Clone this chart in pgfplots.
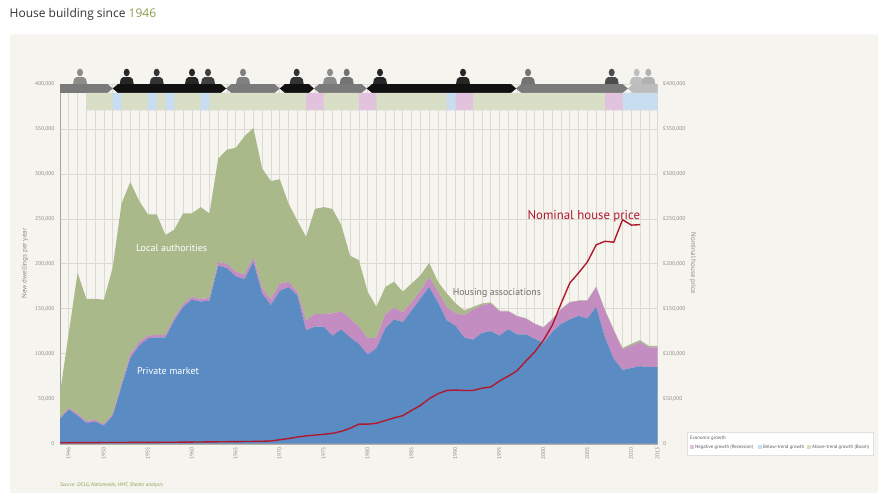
\documentclass[border=0pt]{standalone}
\usepackage{pgfplots}
\usepackage{pgfplotstable}
\pgfplotsset{compat=1.18}
\usepackage{fontspec}
\setmainfont{PT Sans}
\newfontfamily\titlefont{Open Sans}
\definecolor{bg}{HTML}{F6F4EF}
\definecolor{gridc}{HTML}{DEDAD2}
\definecolor{pmblue}{HTML}{5B8BC3}
\definecolor{hapink}{HTML}{C48DC2}
\definecolor{lagreen}{HTML}{AAB98A}
\definecolor{pricered}{HTML}{B0182D}
\definecolor{bandg}{HTML}{D9DFC7}
\definecolor{bandb}{HTML}{C8DDF0}
\definecolor{bandp}{HTML}{E2C3DE}
\definecolor{lab}{HTML}{7A7A7A}
\definecolor{con}{HTML}{111111}
\definecolor{coal}{HTML}{BDBDBD}
\definecolor{olive}{HTML}{8A9F4E}
\definecolor{ticktext}{HTML}{8A8A8A}
\definecolor{axisgray}{HTML}{B5B0A6}
\definecolor{hatext}{HTML}{707070}

% thousands of dwellings: private market, housing associations, local authorities
\pgfplotstableread{
year pm ha la
1946 27.5 1 27.5
1947 38 1.5 83.5
1948 31 2 157
1949 23 2 136
1950 24.5 2 134.5
1951 20 1.5 138.5
1952 31 2 163
1953 64 3 200
1954 95 4 192
1955 109 4 157
1956 117 3 135
1957 118 3 134
1958 118 3 111
1959 137 3 98
1960 152 3 101
1961 160 3 93
1962 158 3 102
1963 159 3 94
1964 198 4 115
1965 195 5 127
1966 186 5 138
1967 183 5 154
1968 202 5 144
1969 167 6 133
1970 154 7 131
1971 170 8 116
1972 174 6 87
1973 165 4 79
1974 126 11 93
1975 130 14 117
1976 130 14 119
1977 120 25 116
1978 127 20 96
1979 118 21 70
1980 111 19 74
1981 99 18 52
1982 106 12 34
1983 128 16 30
1984 138 13 29
1985 135 11 23
1986 148 9 21
1987 161 9 17
1988 174 11 16
1989 157 12 11
1990 137 15 15
1991 131 14 11
1992 118 24.6 5.4
1993 115.5 33.5 3
1994 123 30.8 2
1995 125 30.6 1.5
1996 120 27 1
1997 127 20 0.5
1998 121.5 20 0.5
1999 121.5 17.5 0.5
2000 116.6 16.4 0.5
2001 112 17 0.5
2002 124 14 0.5
2003 133 16 0.5
2004 138 19 0.5
2005 142 16.6 0.5
2006 139 20 0.5
2007 152 22 0.5
2008 118 30 0.5
2009 94 32 0.5
2010 82 22.7 1.5
2011 84 25 2
2012 86 27 2
2013 85 22 1.5
2014 85 22 1.5
}\housing

% nominal house price, thousands of pounds
\pgfplotstableread{
year price
1946 0.8
1947 0.9
1948 1.0
1949 1.0
1950 1.0
1951 1.1
1952 1.1
1953 1.1
1954 1.2
1955 1.2
1956 1.3
1957 1.3
1958 1.4
1959 1.4
1960 1.5
1961 1.6
1962 1.7
1963 1.8
1964 1.9
1965 2.0
1966 2.1
1967 2.2
1968 2.3
1969 2.5
1970 2.8
1971 4.2
1972 5.5
1973 7.2
1974 8.5
1975 9.3
1976 10.3
1977 11.3
1978 13.5
1979 17
1980 21.5
1981 21.5
1982 22.5
1983 25.5
1984 28.5
1985 31
1986 36.8
1987 42.3
1988 49.8
1989 55.4
1990 59
1991 59.5
1992 59
1993 59
1994 61.6
1995 62.8
1996 69.5
1997 75
1998 81
1999 91.7
2000 101.8
2001 114.8
2002 131.5
2003 155.6
2004 178.6
2005 189.8
2006 202
2007 221
2008 225
2009 224
2010 249
2011 243
2012 243.5
}\prices

% economic growth band: g = above trend, b = below trend, p = recession
\pgfplotstableread{
year g b p
1949 1 0 0
1950 1 0 0
1951 1 0 0
1952 0 1 0
1953 1 0 0
1954 1 0 0
1955 1 0 0
1956 0 1 0
1957 1 0 0
1958 0 1 0
1959 1 0 0
1960 1 0 0
1961 1 0 0
1962 0 1 0
1963 1 0 0
1964 1 0 0
1965 1 0 0
1966 1 0 0
1967 1 0 0
1968 1 0 0
1969 1 0 0
1970 1 0 0
1971 1 0 0
1972 1 0 0
1973 1 0 0
1974 0 0 1
1975 0 0 1
1976 1 0 0
1977 1 0 0
1978 1 0 0
1979 1 0 0
1980 0 0 1
1981 0 0 1
1982 1 0 0
1983 1 0 0
1984 1 0 0
1985 1 0 0
1986 1 0 0
1987 1 0 0
1988 1 0 0
1989 1 0 0
1990 0 1 0
1991 0 0 1
1992 0 0 1
1993 1 0 0
1994 1 0 0
1995 1 0 0
1996 1 0 0
1997 1 0 0
1998 1 0 0
1999 1 0 0
2000 1 0 0
2001 1 0 0
2002 1 0 0
2003 1 0 0
2004 1 0 0
2005 1 0 0
2006 1 0 0
2007 1 0 0
2008 0 0 1
2009 0 0 1
2010 0 1 0
2011 0 1 0
2012 0 1 0
2013 0 1 0
2014 0 0 0
}\band

\newcommand{\party}[4]{% x1, x2, colour, label
  \fill[#3] (axis cs:#1,395) -- (axis cs:#1+0.6,400) -- (axis cs:#2-0.6,400) -- (axis cs:#2,395) -- (axis cs:#2-0.6,390) -- (axis cs:#1+0.6,390) -- cycle;
  \node[text=white, font=\fontsize{5.5}{6}\selectfont, inner sep=0] at (axis cs:{(#1+#2)/2},395) {#4};}

% simple portrait silhouettes above the party band (x in px, colour)
\newcommand{\portrait}[2]{%
  \fill[#2] (#1pt-7pt,409pt) -- (#1pt-6pt,414pt) .. controls (#1pt-4pt,416pt) .. (#1pt,416pt) .. controls (#1pt+4pt,416pt) .. (#1pt+6pt,414pt) -- (#1pt+7pt,409pt) -- cycle;
  \fill[#2] (#1pt,420.5pt) ellipse (3pt and 3.8pt);}

\begin{document}
\begin{tikzpicture}
\useasboundingbox (0pt,0pt) rectangle (880pt,493pt);
\fill[white] (0pt,0pt) rectangle (880pt,493pt);
\fill[bg, rounded corners=2pt] (10pt,0pt) rectangle (878pt,458.7pt);
\node[anchor=base west, inner sep=0, font=\titlefont\fontsize{12}{14}\selectfont, text=black!80] at (9.5pt,475pt) {House building since \textcolor{olive}{1946}};

\begin{axis}[at={(60pt,49.5pt)}, anchor=south west, scale only axis,
  width=597.7pt, height=359.5pt,
  xmin=1946, xmax=2014, ymin=0, ymax=400,
  stack plots=y,
  xtick={1946,1950,1955,1960,1965,1970,1975,1980,1985,1990,1995,2000,2005,2010,2013},
  xticklabels={1946,1950,1955,1960,1965,1970,1975,1980,1985,1990,1995,2000,2005,2010,2013},
  minor xtick={1946,1947,...,2014},
  xminorgrids, minor grid style={gridc, line width=0.6pt},
  ytick={0,50,100,150,200,250,300,350,400},
  yticklabels={0,{50,000},{100,000},{150,000},{200,000},{250,000},{300,000},{350,000},{400,000}},
  ymajorgrids, major grid style={gridc, line width=0.6pt},
  axis x line*=bottom, axis y line*=left,
  x axis line style={line width=2pt, draw=axisgray, -},
  y axis line style={draw=black!35, line width=0.7pt, -},
  major tick length=0, minor tick length=0,
  tick label style={font=\fontsize{5.5}{6}\selectfont, text=ticktext},
  xticklabel style={rotate=90, anchor=north east, yshift=-3pt},
  yticklabel style={anchor=east, xshift=-2pt},
]
\addplot[fill=pmblue, draw=none] table[x=year, y=pm] {\housing} \closedcycle;
\addplot[fill=hapink, draw=none] table[x=year, y=ha] {\housing} \closedcycle;
\addplot[fill=lagreen, draw=none] table[x=year, y=la] {\housing} \closedcycle;

\party{1946}{1952.0}{lab}{Labour}
\party{1952.0}{1964.9}{con}{Conservative}
\party{1964.9}{1971.0}{lab}{Labour}
\party{1971.0}{1974.9}{con}{Con}
\party{1974.9}{1980.9}{lab}{Labour}
\party{1980.9}{1997.9}{con}{Conservative}
\party{1997.9}{2010.6}{lab}{Labour}
\party{2010.6}{2014}{coal}{Coalition}
\fill[lab] (axis cs:1946,390) rectangle (axis cs:1946.7,400);
\fill[coal] (axis cs:2013.3,390) rectangle (axis cs:2014,400);
\end{axis}

\begin{axis}[at={(60pt,382.9pt)}, anchor=south west, scale only axis,
  width=597.7pt, height=17.1pt, xmin=1946, xmax=2014, ymin=0, ymax=1, hide axis]
\addplot[ybar interval=0.88, fill=bandg, draw=none] table[x=year, y=g] {\band};
\addplot[ybar interval=0.88, fill=bandb, draw=none] table[x=year, y=b] {\band};
\addplot[ybar interval=0.88, fill=bandp, draw=none] table[x=year, y=p] {\band};
\end{axis}

\begin{axis}[at={(60pt,49.5pt)}, anchor=south west, scale only axis,
  width=597.7pt, height=359.5pt,
  xmin=1946, xmax=2014, ymin=0, ymax=400,
  axis x line=none, axis y line*=right,
  y axis line style={draw=none},
  ytick={0,50,100,150,200,250,300,350,400},
  yticklabels={0,{£50,000},{£100,000},{£150,000},{£200,000},{£250,000},{£300,000},{£350,000},{£400,000}},
  major tick length=0,
  yticklabel style={font=\fontsize{5.5}{6}\selectfont, text=ticktext, anchor=west, xshift=2pt},
]
\addplot[pricered, line width=1.4pt, line join=round] table[x=year, y=price] {\prices};
\node[text=white, font=\fontsize{10}{11}\selectfont] at (axis cs:1958.7,217.5) {Local authorities};
\node[text=white, font=\fontsize{10}{11}\selectfont] at (axis cs:1958.3,80.7) {Private market};
\node[text=hatext, font=\fontsize{9.8}{11}\selectfont] at (axis cs:1995.7,167.5) {Housing associations};
\node[text=pricered, font=\fontsize{12.8}{13}\selectfont] at (axis cs:2005.6,252.6) {Nominal house price};
\end{axis}

% portraits (decorative silhouettes)
\portrait{80}{black!45}
\portrait{126.7}{black!85}
\portrait{156.7}{black!80}
\portrait{192}{black!85}
\portrait{208}{black!75}
\portrait{243}{black!50}
\portrait{296.7}{black!80}
\portrait{330}{black!45}
\portrait{346.7}{black!55}
\portrait{380}{black!85}
\portrait{463}{black!85}
\portrait{528}{black!55}
\portrait{611.7}{black!70}
\portrait{636.7}{black!25}
\portrait{648.3}{black!30}

\node[rotate=90, text=ticktext, font=\fontsize{7}{8}\selectfont] at (25pt,229.5pt) {New dwellings per year};
\node[rotate=-90, text=ticktext, font=\fontsize{7}{8}\selectfont] at (693pt,229.5pt) {Nominal house price};

% legend
\draw[draw=black!12, fill=white] (686.7pt,38pt) rectangle (873.3pt,61.3pt);
\node[anchor=base west, inner sep=0, text=black!65, font=\fontsize{4.8}{5}\selectfont] at (690pt,54pt) {Economic growth};
\fill[bandp] (690pt,44.5pt) rectangle (693.5pt,48pt);
\node[anchor=base west, inner sep=0, text=black!65, font=\fontsize{4.8}{5}\selectfont] at (695pt,45pt) {Negative growth (Recession)};
\fill[bandb] (758pt,44.5pt) rectangle (761.5pt,48pt);
\node[anchor=base west, inner sep=0, text=black!65, font=\fontsize{4.8}{5}\selectfont] at (763pt,45pt) {Below-trend growth};
\fill[bandg] (807pt,44.5pt) rectangle (810.5pt,48pt);
\node[anchor=base west, inner sep=0, text=black!65, font=\fontsize{4.8}{5}\selectfont] at (812pt,45pt) {Above-trend growth (Boom)};

\node[anchor=base west, inner sep=0, text=olive, font=\itshape\fontsize{5.2}{6}\selectfont] at (60pt,7pt) {Source: DCLG, Nationwide, HMT, Shelter analysis};
\end{tikzpicture}
\end{document}
